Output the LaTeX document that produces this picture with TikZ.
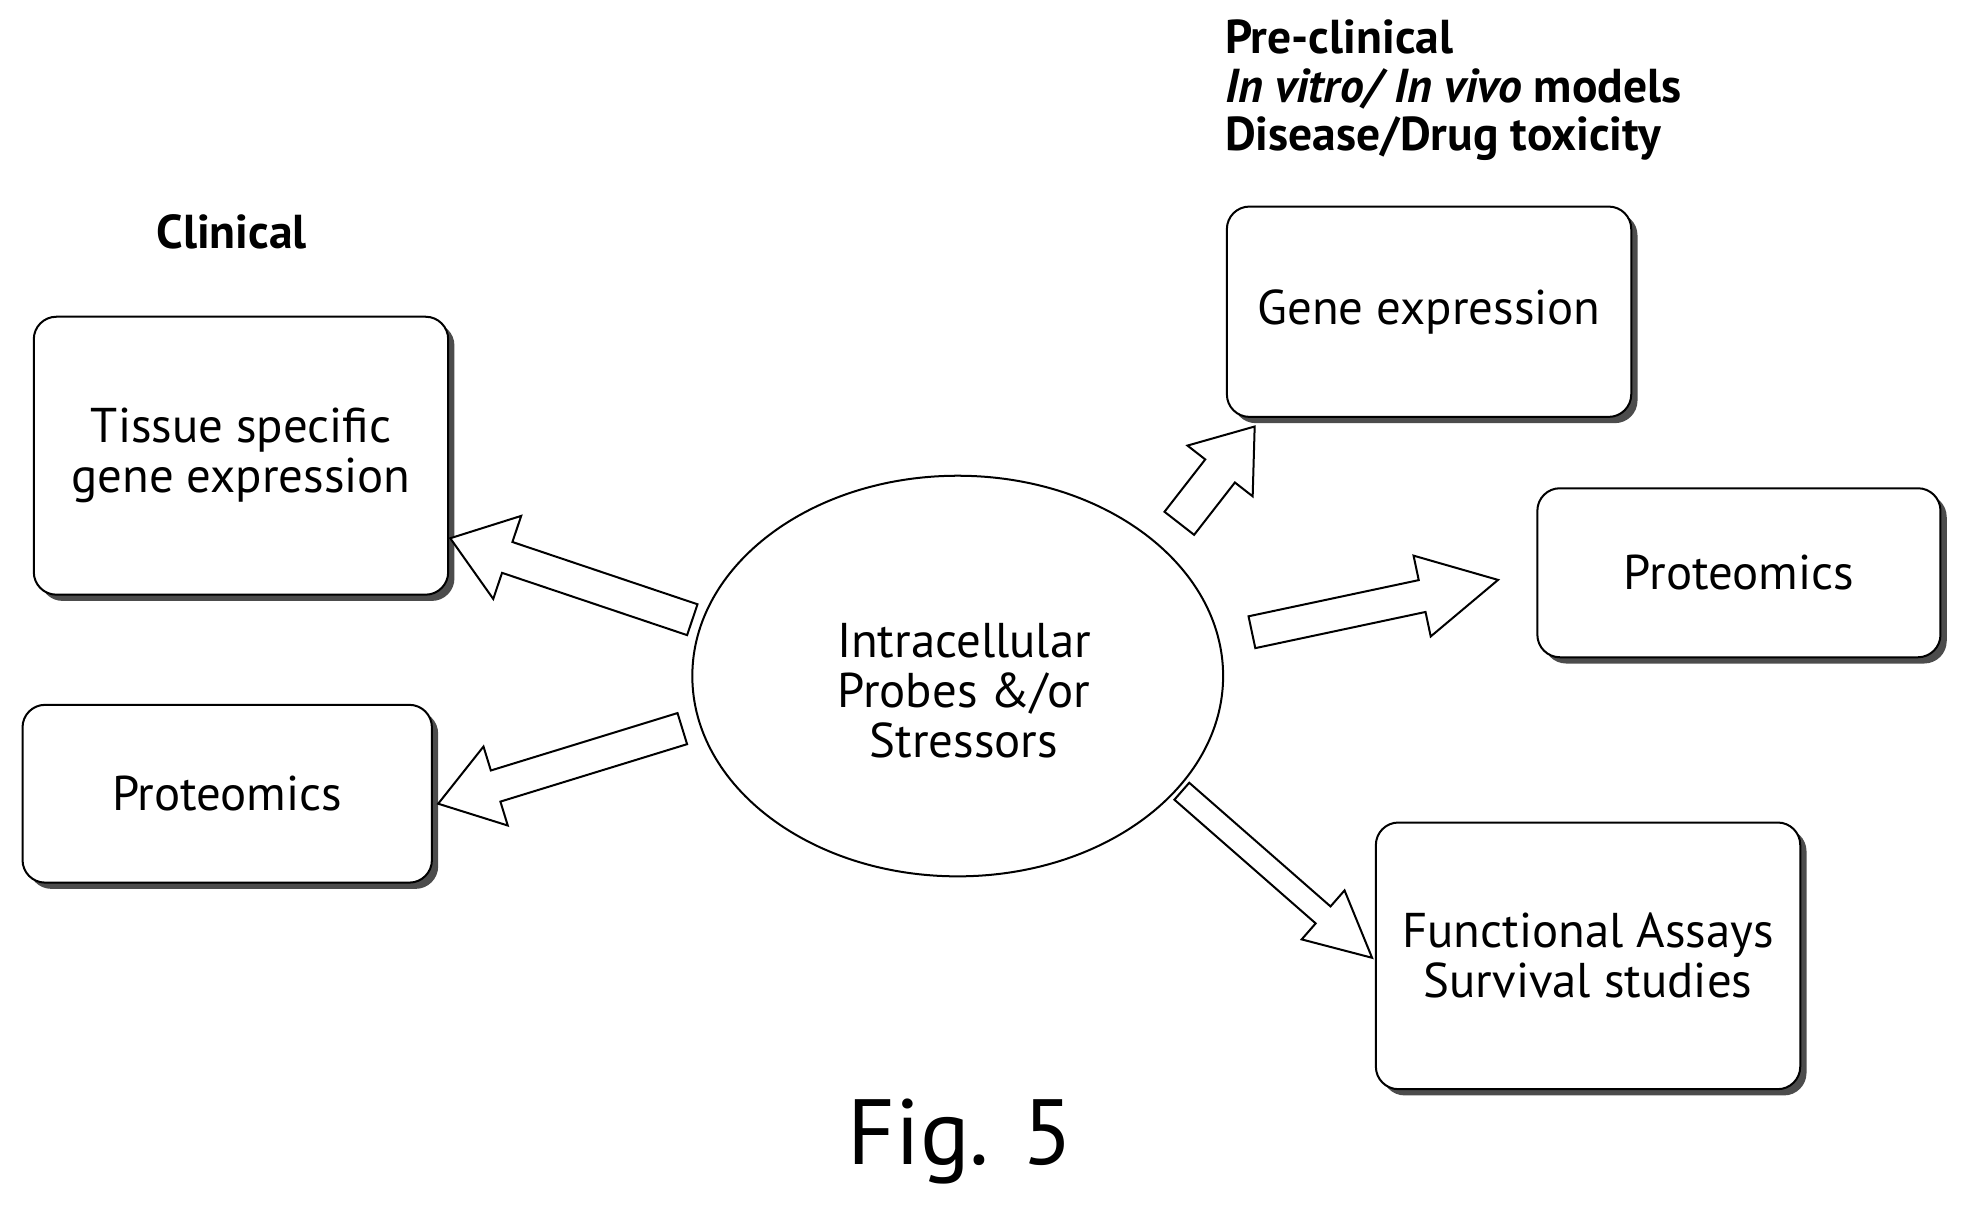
\documentclass[tikz,border=0pt]{standalone}
\usepackage{fontspec}
\setmainfont{PT Sans}
\begin{document}
\begin{tikzpicture}[x=1pt,y=1pt,
  box/.style={draw=black,line width=1.6pt,rounded corners=18pt,fill=white},
  sh/.style={fill=black!70,rounded corners=18pt},
  arr/.style={draw=black,line width=1.6pt,fill=white,line join=miter},
  txt/.style={font=\fontsize{39}{40}\selectfont,align=center},
  lab/.style={font=\fontsize{38}{39}\selectfont\bfseries,align=left,anchor=west}]
\useasboundingbox (0,0) rectangle (1568,-972);
\newcommand\mybox[6]{%
  \fill[sh] (#1+5,-#2-5) rectangle (#3+5,-#4-5);
  \draw[box] (#1,-#2) rectangle (#3,-#4);
  \node[txt] (#5) at ({(#1+#3)/2},{-(#2+#4)/2}) {#6};}
\newcommand\barrow[7]{% x y angle length shaft head headlen
  \begin{scope}[shift={(#1,-#2)},rotate=#3]
  \draw[arr] (0,{-#5/2})--({#4-#7},{-#5/2})--({#4-#7},{-#6/2})--(#4,0)--({#4-#7},{#6/2})--({#4-#7},{#5/2})--(0,{#5/2})--cycle;
  \end{scope}}
\node[lab,anchor=center] (clin) at (185,-185) {Clinical};
\node[lab] (pre) at (975,-72) {Pre-clinical\\\textit{In vitro/ In vivo} models\\Disease/Drug toxicity};
\mybox{27}{253}{358}{475}{b1}{Tissue specific\\gene expression}
\mybox{18}{563}{345}{705}{b2}{Proteomics}
\mybox{980}{165}{1303}{333}{b3}{Gene expression}
\mybox{1228}{390}{1550}{525}{b4}{Proteomics}
\mybox{1099}{657}{1438}{870}{b5}{Functional Assays\\Survival studies}
\draw[line width=1.6pt,fill=white] (765,-540) ellipse (212 and 160);
\node[txt] (c) at (770,-552) {Intracellular\\Probes \&/or\\Stressors};
\barrow{553}{495}{161.4}{204}{26}{70}{48}
\barrow{545}{582}{197.1}{204}{26}{66}{48}
\barrow{942}{418}{52.1}{98}{30}{66}{45}
\barrow{1000}{505}{12.0}{201}{26}{66}{62}
\barrow{944}{632}{-41.2}{202}{18}{52}{52}
\node[font=\fontsize{74}{80}\selectfont] (fig) at (767,-912) {Fig. 5};
\end{tikzpicture}
\end{document}
